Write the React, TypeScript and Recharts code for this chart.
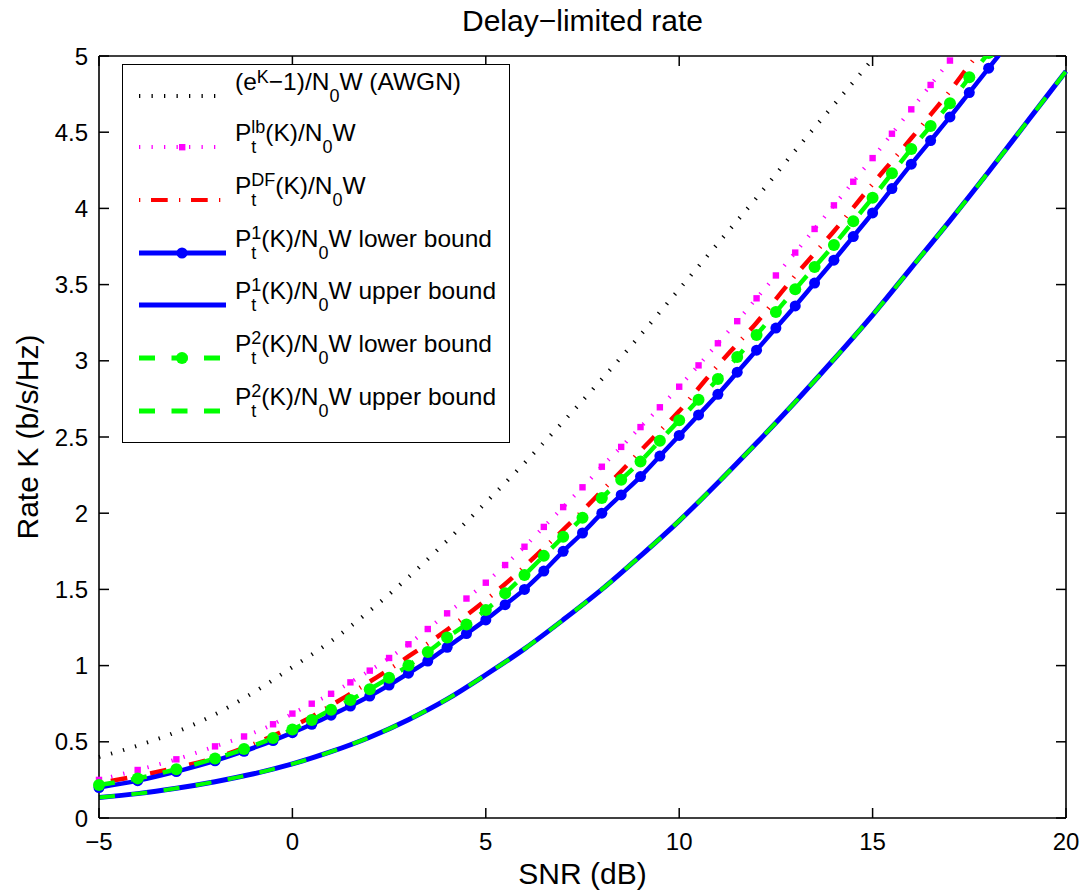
import React from "react";
import { LineChart, Line, XAxis, YAxis, Legend, ReferenceLine } from "recharts";

const FONT = '"Liberation Sans", Arial, Helvetica, sans-serif';

// SNR (dB) grid for the smooth curves without markers
const snrCoarse = [-5, -4, -3, -2, -1, 0, 1, 2, 3, 4, 5, 6, 7, 8, 9, 10, 11, 12, 13, 14, 15, 16, 17, 18, 19, 20];

// (e^K-1)/N0W (AWGN)
const awgn = [0.4, 0.475, 0.565, 0.68, 0.825, 0.99, 1.16, 1.36, 1.58, 1.82, 2.07, 2.33, 2.6, 2.88, 3.17, 3.47, 3.77, 4.07, 4.38, 4.68, 4.98, 5.3];

// upper bounds (the two curves lie on top of each other)
const p1Upper = [0.135, 0.16, 0.195, 0.238, 0.29, 0.355, 0.435, 0.53, 0.645, 0.78, 0.94, 1.11, 1.3, 1.5, 1.72, 1.95, 2.2, 2.46, 2.73, 3.01, 3.3, 3.61, 3.92, 4.24, 4.57, 4.9];
const p2Upper = [0.135, 0.16, 0.195, 0.238, 0.29, 0.355, 0.435, 0.53, 0.645, 0.78, 0.94, 1.11, 1.3, 1.5, 1.72, 1.95, 2.2, 2.46, 2.73, 3.01, 3.3, 3.61, 3.92, 4.24, 4.57, 4.9];

// SNR (dB) grid for the curves with markers
const snrMarked = [-5, -4, -3, -2, -1.25, -0.5, 0, 0.5, 1, 1.5, 2, 2.5, 3, 3.5, 4, 4.5, 5, 5.5, 6, 6.5, 7, 7.5, 8, 8.5, 9, 9.5, 10, 10.5, 11, 11.5, 12, 12.5, 13, 13.5, 14, 14.5, 15, 15.5, 16, 16.5, 17, 17.5, 18, 18.5];

const ptLb = [0.25, 0.315, 0.385, 0.47, 0.535, 0.615, 0.685, 0.75, 0.815, 0.89, 0.967, 1.05, 1.14, 1.24, 1.343, 1.44, 1.544, 1.66, 1.78, 1.91, 2.04, 2.17, 2.305, 2.435, 2.565, 2.695, 2.83, 2.97, 3.115, 3.26, 3.41, 3.56, 3.71, 3.865, 4.02, 4.175, 4.33, 4.49, 4.65, 4.81, 4.97, 5.13];
const ptDf = [0.23, 0.276, 0.33, 0.395, 0.46, 0.54, 0.6, 0.665, 0.74, 0.815, 0.895, 0.975, 1.06, 1.145, 1.235, 1.33, 1.43, 1.535, 1.65, 1.77, 1.89, 2.015, 2.146, 2.275, 2.41, 2.54, 2.67, 2.82, 2.97, 3.11, 3.25, 3.405, 3.56, 3.705, 3.85, 4.005, 4.16, 4.31, 4.46, 4.615, 4.77, 4.94, 5.1];
const p1Lower = [0.2, 0.245, 0.305, 0.375, 0.438, 0.508, 0.56, 0.615, 0.675, 0.735, 0.8, 0.872, 0.95, 1.03, 1.12, 1.21, 1.3, 1.4, 1.5, 1.62, 1.75, 1.87, 2.0, 2.12, 2.24, 2.375, 2.51, 2.645, 2.78, 2.925, 3.07, 3.215, 3.36, 3.51, 3.66, 3.815, 3.97, 4.13, 4.29, 4.445, 4.6, 4.76, 4.92, 5.08];
const p2Lower = [0.216, 0.26, 0.32, 0.39, 0.452, 0.525, 0.58, 0.643, 0.71, 0.775, 0.845, 0.92, 1.0, 1.09, 1.185, 1.27, 1.365, 1.475, 1.595, 1.72, 1.845, 1.97, 2.1, 2.22, 2.34, 2.475, 2.61, 2.745, 2.88, 3.025, 3.17, 3.32, 3.47, 3.615, 3.76, 3.915, 4.07, 4.23, 4.39, 4.54, 4.69, 4.86, 5.02];

const xTicks = [-5, 0, 5, 10, 15, 20];
const yTicks = [0, 0.5, 1, 1.5, 2, 2.5, 3, 3.5, 4, 4.5, 5];

const BLUE = "#0000ff";
const GREEN = "#00ff00";
const RED = "#ff0000";
const MAGENTA = "#ff00ff";

const toRows = (xs: number[], ys: number[]) => ys.map((v, i) => ({ snr: xs[i], rate: v }));

const DOTTED = "1.3 11.2";
const DASHDOT = "1.3 10.7 16.7 11.3";
const DASHED = "16 16.5";

// plot box size (follows from chart size and margins)
const PLOT_W = 967;
const PLOT_H = 762;

const SquareDot = (props: any) => {
  const { cx, cy, index } = props;
  if (cx == null || cy == null) return <g key={`sq-${index}`} />;
  return <rect key={`sq-${index}`} x={cx - 3.2} y={cy - 3.2} width={6.4} height={6.4} fill={MAGENTA} />;
};

// MATLAB-style ticks: short marks pointing into the box, on both opposite sides
const TICK = 10;
const fmt = (v: number) => String(v).replace("-", "\u2212");

const BottomTick = (props: any) => {
  const { x, y, payload } = props;
  return (
    <g>
      <line x1={x} x2={x} y1={y} y2={y - TICK} stroke="#000" strokeWidth={1.5} />
      <line x1={x} x2={x} y1={y - PLOT_H} y2={y - PLOT_H + TICK} stroke="#000" strokeWidth={1.5} />
      <text x={x} y={y + 32} textAnchor="middle" fontSize={24} fontFamily={FONT} fill="#000">
        {fmt(payload.value)}
      </text>
    </g>
  );
};
const LeftTick = (props: any) => {
  const { x, y, payload } = props;
  return (
    <g>
      <line x1={x} x2={x + TICK} y1={y} y2={y} stroke="#000" strokeWidth={1.5} />
      <line x1={x + PLOT_W} x2={x + PLOT_W - TICK} y1={y} y2={y} stroke="#000" strokeWidth={1.5} />
      <text x={x - 11} y={y} dy="0.36em" textAnchor="end" fontSize={24} fontFamily={FONT} fill="#000">
        {payload.value}
      </text>
    </g>
  );
};

const Sup = ({ children, up = 8 }: { children: React.ReactNode; up?: number }) => (
  <span style={{ fontSize: 18, position: "relative", top: -up }}>{children}</span>
);
const Sub = ({ children }: { children: React.ReactNode }) => (
  <span style={{ fontSize: 18, position: "relative", top: 12 }}>{children}</span>
);
const Pt = ({ sup }: { sup: string }) => (
  <>
    P
    <span
      style={{
        display: "inline-flex",
        flexDirection: "column",
        fontSize: 18,
        lineHeight: "20px",
        position: "relative",
        top: -8,
      }}
    >
      <span>{sup}</span>
      <span>t</span>
    </span>
  </>
);

const legendItems = [
  {
    label: (
      <>
        (e<Sup up={7}>K</Sup>−1)/N<Sub>0</Sub>W (AWGN)
      </>
    ),
    sample: <line x1={0} x2={87} y1={10} y2={10} stroke="#000" strokeWidth={4} strokeDasharray={DOTTED} />,
  },
  {
    label: (
      <>
        <Pt sup="lb" />(K)/N<Sub>0</Sub>W
      </>
    ),
    sample: (
      <>
        <line x1={0} x2={87} y1={10} y2={10} stroke={MAGENTA} strokeWidth={4} strokeDasharray={DOTTED} />
        <rect x={40} y={7} width={6.4} height={6.4} fill={MAGENTA} />
      </>
    ),
  },
  {
    label: (
      <>
        <Pt sup="DF" />(K)/N<Sub>0</Sub>W
      </>
    ),
    sample: <line x1={0} x2={87} y1={10} y2={10} stroke={RED} strokeWidth={4} strokeDasharray={DASHDOT} />,
  },
  {
    label: (
      <>
        <Pt sup="1" />(K)/N<Sub>0</Sub>W lower bound
      </>
    ),
    sample: (
      <>
        <line x1={0} x2={87} y1={10} y2={10} stroke={BLUE} strokeWidth={5} />
        <circle cx={43} cy={10} r={5.5} fill={BLUE} />
      </>
    ),
  },
  {
    label: (
      <>
        <Pt sup="1" />(K)/N<Sub>0</Sub>W upper bound
      </>
    ),
    sample: <line x1={0} x2={87} y1={10} y2={10} stroke={BLUE} strokeWidth={5} />,
  },
  {
    label: (
      <>
        <Pt sup="2" />(K)/N<Sub>0</Sub>W lower bound
      </>
    ),
    sample: (
      <>
        <line x1={0} x2={87} y1={10} y2={10} stroke={GREEN} strokeWidth={5} strokeDasharray={DASHED} />
        <circle cx={43} cy={10} r={6} fill={GREEN} />
      </>
    ),
  },
  {
    label: (
      <>
        <Pt sup="2" />(K)/N<Sub>0</Sub>W upper bound
      </>
    ),
    sample: <line x1={0} x2={87} y1={10} y2={10} stroke={GREEN} strokeWidth={5} strokeDasharray={DASHED} />,
  },
];

const rowY = [31, 82, 135, 188, 240, 293, 345.5];

const LegendBox = () => (
  <div
    style={{
      position: "relative",
      width: 388,
      height: 379,
      boxSizing: "border-box",
      border: "1.5px solid #000",
      background: "#fff",
      fontFamily: FONT,
      fontSize: 24.5,
      color: "#000",
    }}
  >
    {legendItems.map((item, i) => (
      <React.Fragment key={i}>
        <svg style={{ position: "absolute", left: 16, top: rowY[i] - 10 }} width={90} height={20}>
          {item.sample}
        </svg>
        <div
          style={{
            position: "absolute",
            left: 112,
            top: rowY[i] - 5 - 20.6,
            lineHeight: "24px",
            whiteSpace: "nowrap",
          }}
        >
          {item.label}
        </div>
      </React.Fragment>
    ))}
  </div>
);

const axisStroke = { stroke: "#000", strokeWidth: 1.6 };

export default function App() {
  return (
    <div style={{ position: "absolute", left: 0, top: 0, width: 1086, height: 896, background: "#fff" }}>
      <div
        style={{
          position: "absolute",
          left: 99,
          width: 967,
          top: 6,
          textAlign: "center",
          fontFamily: FONT,
          fontSize: 30,
          lineHeight: "30px",
          color: "#000",
        }}
      >
        Delay{"\u2212"}limited rate
      </div>
      <LineChart width={1086} height={896} margin={{ top: 56, right: 20, bottom: 48, left: 0 }}>
        <XAxis
          dataKey="snr"
          type="number"
          domain={[-5, 20]}
          ticks={xTicks}
          tick={BottomTick}
          tickSize={0}
          tickMargin={0}
          tickLine={false}
          axisLine={axisStroke}
          height={30}
          label={{ value: "SNR (dB)", position: "bottom", offset: 15, fontSize: 30, fill: "#000", fontFamily: FONT }}
        />
        <YAxis
          type="number"
          domain={[0, 5]}
          ticks={yTicks}
          allowDataOverflow
          tick={LeftTick}
          tickSize={0}
          tickMargin={0}
          tickLine={false}
          axisLine={axisStroke}
          width={99}
          label={{
            value: "Rate K (b/s/Hz)",
            angle: -90,
            position: "insideLeft",
            offset: 27,
            style: { textAnchor: "middle" },
            fontSize: 30,
            fill: "#000",
            fontFamily: FONT,
          }}
        />
        {/* top and right edges of the box */}
        <ReferenceLine y={5} stroke="#000" strokeWidth={1.6} />
        <ReferenceLine x={20} stroke="#000" strokeWidth={1.6} />
        <Legend
          layout="vertical"
          align="center"
          verticalAlign="middle"
          content={() => <LegendBox />}
          wrapperStyle={{ left: 122, top: 64, width: 388, height: 379 }}
        />

        <Line
          data={toRows(snrCoarse, awgn)}
          dataKey="rate"
          type="monotone"
          stroke="#000"
          strokeWidth={4}
          strokeDasharray={DOTTED}
          dot={false}
          isAnimationActive={false}
        />
        <Line
          data={toRows(snrMarked, ptLb)}
          dataKey="rate"
          type="monotone"
          stroke={MAGENTA}
          strokeWidth={4}
          strokeDasharray={DOTTED}
          dot={SquareDot}
          isAnimationActive={false}
        />
        <Line
          data={toRows(snrMarked, ptDf)}
          dataKey="rate"
          type="monotone"
          stroke={RED}
          strokeWidth={4.5}
          strokeDasharray={DASHDOT}
          dot={false}
          isAnimationActive={false}
        />
        <Line
          data={toRows(snrMarked, p1Lower)}
          dataKey="rate"
          type="monotone"
          stroke={BLUE}
          strokeWidth={4.5}
          dot={{ r: 5.5, fill: BLUE, stroke: BLUE, strokeWidth: 0 }}
          isAnimationActive={false}
        />
        <Line
          data={toRows(snrCoarse, p1Upper)}
          dataKey="rate"
          type="monotone"
          stroke={BLUE}
          strokeWidth={5}
          dot={false}
          isAnimationActive={false}
        />
        <Line
          data={toRows(snrMarked, p2Lower)}
          dataKey="rate"
          type="monotone"
          stroke={GREEN}
          strokeWidth={4.5}
          strokeDasharray={DASHED}
          dot={{ r: 6, fill: GREEN, stroke: GREEN, strokeWidth: 0 }}
          isAnimationActive={false}
        />
        <Line
          data={toRows(snrCoarse, p2Upper)}
          dataKey="rate"
          type="monotone"
          stroke={GREEN}
          strokeWidth={4}
          strokeDasharray={DASHED}
          dot={false}
          isAnimationActive={false}
        />
      </LineChart>
    </div>
  );
}
